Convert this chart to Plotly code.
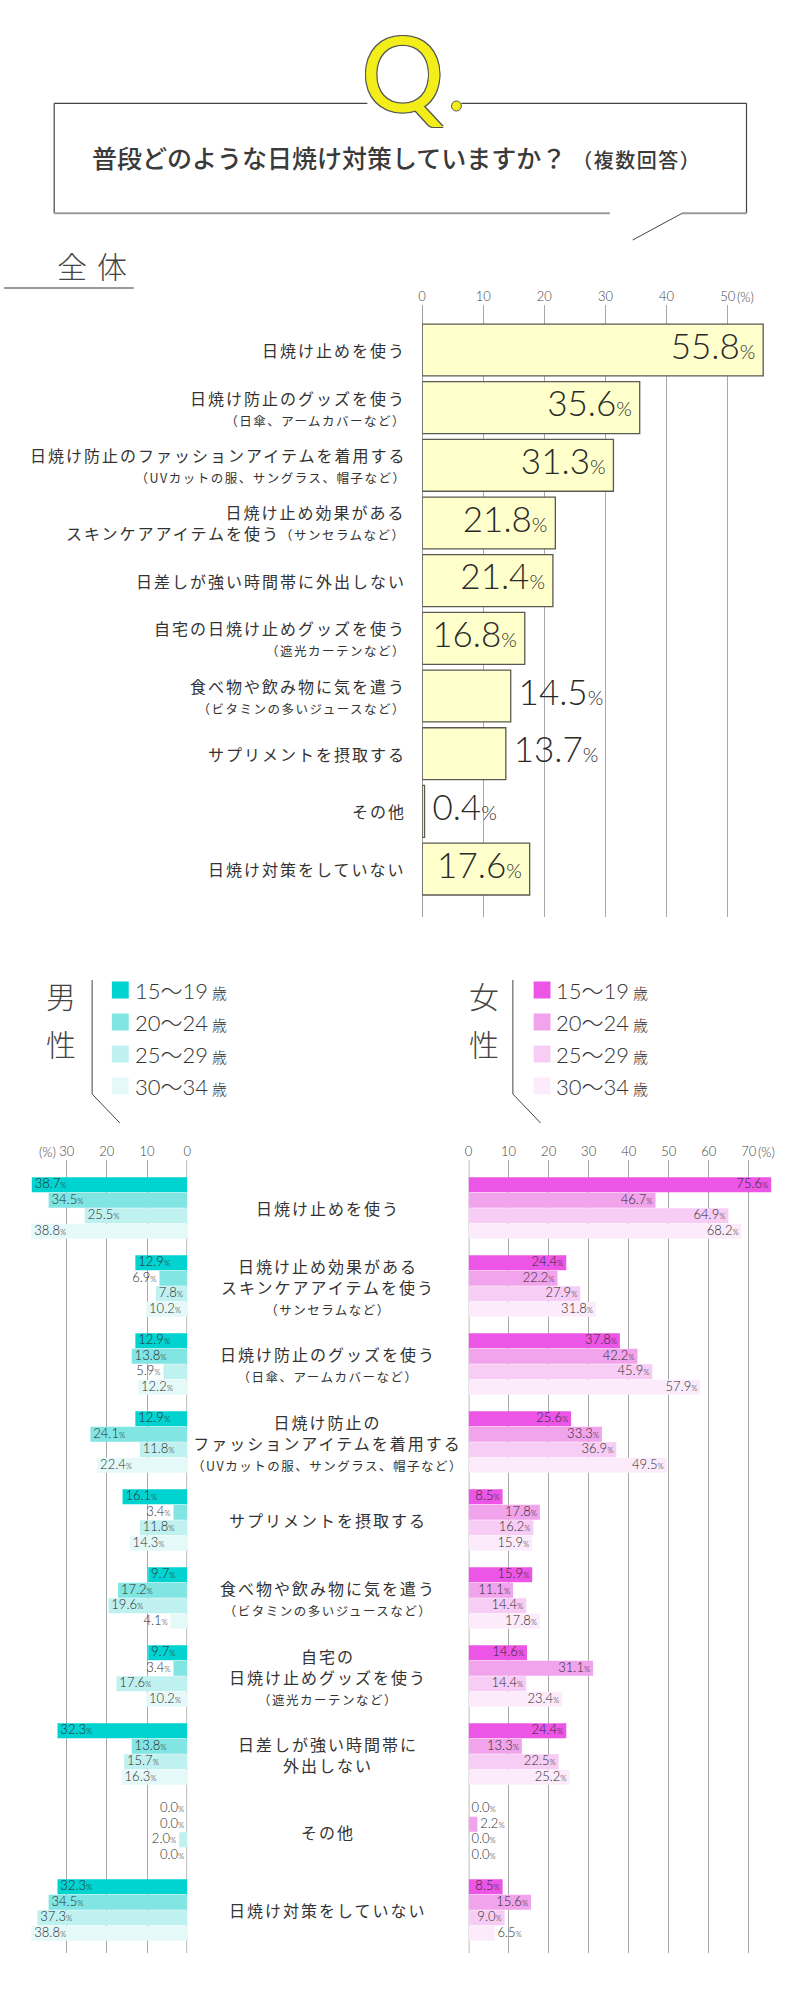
import plotly.graph_objects as go

W, H = 800, 1990
JP = "Noto Sans CJK JP"
NUM = "Lato, Noto Sans CJK JP"

# 全体
all_labels = [
    ["日焼け止めを使う"],
    ["日焼け防止のグッズを使う", "（日傘、アームカバーなど）"],
    ["日焼け防止のファッションアイテムを着用する", "（UVカットの服、サングラス、帽子など）"],
    ["日焼け止め効果がある", "スキンケアアイテムを使う（サンセラムなど）"],
    ["日差しが強い時間帯に外出しない"],
    ["自宅の日焼け止めグッズを使う", "（遮光カーテンなど）"],
    ["食べ物や飲み物に気を遣う", "（ビタミンの多いジュースなど）"],
    ["サプリメントを摂取する"],
    ["その他"],
    ["日焼け対策をしていない"],
]
all_values = [55.8, 35.6, 31.3, 21.8, 21.4, 16.8, 14.5, 13.7, 0.4, 17.6]

# 性別・年代別
cross_labels = [
    ["日焼け止めを使う"],
    ["日焼け止め効果がある", "スキンケアアイテムを使う", "（サンセラムなど）"],
    ["日焼け防止のグッズを使う", "（日傘、アームカバーなど）"],
    ["日焼け防止の", "ファッションアイテムを着用する", "（UVカットの服、サングラス、帽子など）"],
    ["サプリメントを摂取する"],
    ["食べ物や飲み物に気を遣う", "（ビタミンの多いジュースなど）"],
    ["自宅の", "日焼け止めグッズを使う", "（遮光カーテンなど）"],
    ["日差しが強い時間帯に", "外出しない"],
    ["その他"],
    ["日焼け対策をしていない"],
]
age_groups = ["15〜19", "20〜24", "25〜29", "30〜34"]
male_15_19 = [38.7, 12.9, 12.9, 12.9, 16.1, 9.7, 9.7, 32.3, 0.0, 32.3]
male_20_24 = [34.5, 6.9, 13.8, 24.1, 3.4, 17.2, 3.4, 13.8, 0.0, 34.5]
male_25_29 = [25.5, 7.8, 5.9, 11.8, 11.8, 19.6, 17.6, 15.7, 2.0, 37.3]
male_30_34 = [38.8, 10.2, 12.2, 22.4, 14.3, 4.1, 10.2, 16.3, 0.0, 38.8]
female_15_19 = [75.6, 24.4, 37.8, 25.6, 8.5, 15.9, 14.6, 24.4, 0.0, 8.5]
female_20_24 = [46.7, 22.2, 42.2, 33.3, 17.8, 11.1, 31.1, 13.3, 2.2, 15.6]
female_25_29 = [64.9, 27.9, 45.9, 36.9, 16.2, 14.4, 14.4, 22.5, 0.0, 9.0]
female_30_34 = [68.2, 31.8, 57.9, 49.5, 15.9, 17.8, 23.4, 25.2, 0.0, 6.5]

male = [male_15_19, male_20_24, male_25_29, male_30_34]
female = [female_15_19, female_20_24, female_25_29, female_30_34]
male_colors = ["#00d3d0", "#80e5e3", "#bff1f0", "#e6f9f9"]
female_colors = ["#ec55e6", "#f1a3eb", "#f8cdf5", "#fcecfb"]


def X(px):
    return px / W


def Y(py):
    return 1 - py / H


def jp_line(s, spacing):
    # 括弧書きは小さめの文字にする
    small = "font-size:12.5px;letter-spacing:1.5px"
    if "（" in s and not s.startswith("（"):
        head, tail = s.split("（", 1)
        return (f"<span style='letter-spacing:{spacing}px'>{head}</span>"
                f"<span style='{small}'>（{tail}</span>")
    if s.startswith("（"):
        return f"<span style='{small}'>{s}</span>"
    return f"<span style='letter-spacing:{spacing}px'>{s}</span>"


def pct(v, small):
    return f"{v:.1f}<span style='font-size:{small}px'>%</span>"


fig = go.Figure()

# ---- 全体 ----
n = len(all_values)
pos = list(range(n))
fig.add_trace(go.Bar(
    x=all_values, y=pos, orientation="h", width=0.9,
    marker=dict(color="#ffffcc", line=dict(color="#5a5a50", width=1.3)),
    hoverinfo="skip", xaxis="x", yaxis="y",
))
fig.add_trace(go.Scatter(
    x=all_values, y=pos, mode="markers+text",
    marker=dict(size=11, opacity=0),
    text=[pct(v, 20) for v in all_values],
    textposition=["middle left" if v >= 16 else "middle right" for v in all_values],
    textfont=dict(family=NUM, size=35, color="#2a2a2a", weight=300),
    cliponaxis=False, hoverinfo="skip", xaxis="x", yaxis="y",
))

# ---- 男性・女性 ----
unit = 78.0
step = 15.5 / unit
for k in range(4):
    ypos = [g + (k - 1.5) * step for g in range(len(cross_labels))]
    for vals, colors, xa, ya, inside_pos, outside_pos in [
        (male[k], male_colors, "x2", "y2", "middle right", "middle left"),
        (female[k], female_colors, "x3", "y3", "middle left", "middle right"),
    ]:
        fig.add_trace(go.Bar(
            x=vals, y=ypos, orientation="h", width=15 / unit,
            marker=dict(color=colors[k], line=dict(width=0)),
            hoverinfo="skip", xaxis=xa, yaxis=ya,
        ))
        fig.add_trace(go.Scatter(
            x=vals, y=ypos, mode="markers+text",
            marker=dict(size=3, opacity=0),
            text=[pct(v, 8) for v in vals],
            textposition=[inside_pos if v >= 7.5 else outside_pos for v in vals],
            textfont=dict(family=NUM, size=13, color="#2a2a2a", weight=300),
            cliponaxis=False, hoverinfo="skip", xaxis=xa, yaxis=ya,
        ))

tickfont = dict(family=NUM, size=13, color="#444444", weight=300)
main_top, main_bot = 305, 917
low_top, low_bot = 1160, 1953

fig.update_layout(
    width=W, height=H, margin=dict(l=0, r=0, t=0, b=0),
    paper_bgcolor="white", plot_bgcolor="rgba(0,0,0,0)",
    showlegend=False, barmode="overlay",
    xaxis=dict(domain=[X(422.3), X(792.8)], range=[0, 60], side="top",
               tickvals=[0, 10, 20, 30, 40, 50], showgrid=True,
               gridcolor="#a8a8a8", gridwidth=1, zeroline=False,
               tickfont=tickfont, anchor="y", fixedrange=True),
    yaxis=dict(domain=[Y(main_bot), Y(main_top)],
               range=[9 + (main_bot - 869) / 57.7, -(350 - main_top) / 57.7],
               visible=False, anchor="x", fixedrange=True),
    xaxis2=dict(domain=[X(22.8), X(185)], range=[40, 0], side="top",
                tickvals=[0, 10, 20, 30], showgrid=True, gridcolor="#a8a8a8",
                zeroline=False, tickfont=tickfont, anchor="y2", fixedrange=True),
    yaxis2=dict(domain=[Y(low_bot), Y(low_top)],
                range=[9 + (low_bot - 1910) / unit, -(1208 - low_top) / unit],
                visible=False, anchor="x2", fixedrange=True),
    xaxis3=dict(domain=[X(469.3), X(792.7)], range=[0, 80], side="top",
                tickvals=[0, 10, 20, 30, 40, 50, 60, 70], showgrid=True,
                gridcolor="#a8a8a8", zeroline=False, tickfont=tickfont,
                anchor="y3", fixedrange=True),
    yaxis3=dict(domain=[Y(low_bot), Y(low_top)],
                range=[9 + (low_bot - 1910) / unit, -(1208 - low_top) / unit],
                visible=False, anchor="x3", fixedrange=True),
)

shapes = []
annotations = []


def line(x0, y0, x1, y1, color="#444444", width=1.2):
    shapes.append(dict(type="line", xref="paper", yref="paper",
                       x0=X(x0), y0=Y(y0), x1=X(x1), y1=Y(y1),
                       line=dict(color=color, width=width)))


def text(x, y, s, size, xanchor="left", color="#333333", family=JP, weight=None):
    f = dict(family=family, size=size, color=color)
    if weight:
        f["weight"] = weight
    annotations.append(dict(xref="paper", yref="paper", x=X(x), y=Y(y), text=s,
                            showarrow=False, xanchor=xanchor, yanchor="middle",
                            font=f))


# 0 の縦線
shapes.append(dict(type="line", xref="x", yref="paper", x0=0, x1=0,
                   y0=Y(main_bot), y1=Y(main_top), line=dict(color="#666666", width=1.2)))
for xr in ["x2", "x3"]:
    shapes.append(dict(type="line", xref=xr, yref="paper", x0=0, x1=0, layer="below",
                       y0=Y(low_bot), y1=Y(low_top), line=dict(color="#bbbbbb", width=2)))

# 質問ボックス
line(50.7, 103.3, 50.7, 213.3)
line(50.7, 103.3, 367, 103.3)
line(462, 103.3, 750, 103.3)
line(750, 103.3, 750, 213.3)
line(50.7, 213.3, 612, 213.3, color="#9a9a9a", width=2)
line(685, 213.3, 750, 213.3, color="#9a9a9a", width=2)
line(685, 213.3, 635, 240, width=1)
annotations.append(dict(
    xref="paper", yref="paper", x=X(403), y=Y(72), text="Q", showarrow=False,
    xanchor="center", yanchor="middle",
    font=dict(family="Lato", size=104, color="#f3ee1a",
              shadow="-1px -1px 0 #555, 1px -1px 0 #555, -1px 1px 0 #555, 1px 1px 0 #555"),
))
shapes.append(dict(type="circle", xref="paper", yref="paper",
                   x0=X(452), x1=X(462), y0=Y(101), y1=Y(111),
                   fillcolor="#f3ee1a", line=dict(color="#555555", width=1)))
text(87, 157, "普段どのような日焼け対策していますか？"
     "<span style='font-size:20px;letter-spacing:1.5px'> （複数回答）</span>", 25,
     color="#3a3a3a", weight=500)

# 全体 見出し
text(52, 265, "<span style='letter-spacing:10px'>全体</span>", 30, color="#444444",
     weight=300)
line(0, 288, 131, 288, color="#9a9a9a", width=2)

# (%)
text(738, 297, "(%)", 13, color="#444444", family=NUM, weight=300)
text(55, 1152, "(%)", 13, xanchor="right", color="#444444", family=NUM, weight=300)
text(760, 1152, "(%)", 13, color="#444444", family=NUM, weight=300)

# 全体の項目名
for i, lines in enumerate(all_labels):
    s = "<br>".join(jp_line(t, 2) for t in lines)
    annotations.append(dict(xref="paper", yref="y", x=X(408), y=i, text=s,
                            showarrow=False, xanchor="right", yanchor="middle",
                            align="right",
                            font=dict(family=JP, size=16, color="#333333")))

# 男女別の項目名
for g, lines in enumerate(cross_labels):
    s = "<br>".join(jp_line(t, 2) for t in lines)
    annotations.append(dict(xref="paper", yref="y2", x=X(327), y=g, text=s,
                            showarrow=False, xanchor="center", yanchor="middle",
                            align="center",
                            font=dict(family=JP, size=16, color="#333333")))

# 凡例
legend_y = [990, 1022, 1054, 1086]
for title_chars, cx, lx, sx, colors in [
    ("男性", 58, 89, 109, male_colors),
    ("女性", 485, 514, 535, female_colors),
]:
    text(cx, 995, title_chars[0], 30, xanchor="center", color="#444444", weight=300)
    text(cx, 1043, title_chars[1], 30, xanchor="center", color="#444444", weight=300)
    line(lx, 980, lx, 1094, width=1)
    line(lx, 1094, lx + 28, 1123, width=1)
    for k, ag in enumerate(age_groups):
        shapes.append(dict(type="rect", xref="paper", yref="paper",
                           x0=X(sx), x1=X(sx + 17),
                           y0=Y(legend_y[k] - 8.5), y1=Y(legend_y[k] + 8.5),
                           fillcolor=colors[k], line=dict(width=0)))
        text(sx + 21, legend_y[k], f"{ag}<span style='font-size:15px'> 歳</span>", 22,
             color="#333333", family=NUM, weight=300)

fig.update_layout(shapes=shapes, annotations=annotations)
fig.write_html("out.html", config={"displayModeBar": False},
               post_script="document.body.style.margin='0px';")
